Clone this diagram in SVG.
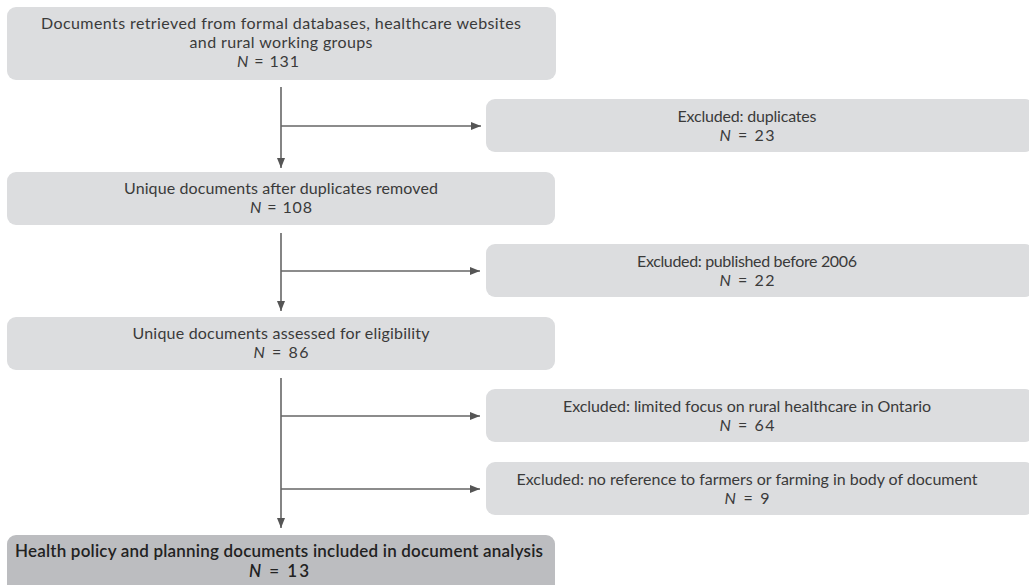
<svg xmlns="http://www.w3.org/2000/svg" width="1029" height="585" viewBox="0 0 1029 585">
<defs>
<style>
.box{fill:#dcdddf}
.final{fill:#bcbdc0}
text{font-family:Lato,"Open Sans","Liberation Sans",sans-serif;font-size:16px;fill:#3a3a3a;text-anchor:middle}
.b{font-weight:600;font-size:17px;fill:#222}
.n{font-style:italic}
.ln{stroke:#666;stroke-width:1.6;fill:none}
</style>
<marker id="ah" viewBox="0 0 10 10" refX="10" refY="5" markerWidth="10" markerHeight="10" markerUnits="userSpaceOnUse" orient="auto">
<path d="M0,1 L10,5 L0,9 Z" fill="#555"/>
</marker>
</defs>
<rect width="1029" height="585" fill="#fff"/>
<g id="connectors">
<path class="ln" d="M281,87 V168" marker-end="url(#ah)"/>
<path class="ln" d="M281,126 H481" marker-end="url(#ah)"/>
<path class="ln" d="M281,233 V311" marker-end="url(#ah)"/>
<path class="ln" d="M281,271 H480" marker-end="url(#ah)"/>
<path class="ln" d="M281,378 V528" marker-end="url(#ah)"/>
<path class="ln" d="M281,416 H480" marker-end="url(#ah)"/>
<path class="ln" d="M281,489 H480" marker-end="url(#ah)"/>
</g>
<g id="n1">
<rect class="box" x="7" y="7" width="549" height="73" rx="9"/>
<text x="281" y="29" textLength="480">Documents retrieved from formal databases, healthcare websites</text>
<text x="281" y="48" textLength="183">and rural working groups</text>
<text x="268" y="67" textLength="62"><tspan class="n">N</tspan> = 131</text>
</g>
<g id="n2">
<rect class="box" x="486" y="99" width="548" height="53" rx="9"/>
<text x="747" y="122" textLength="139">Excluded: duplicates</text>
<text x="747" y="141" textLength="55"><tspan class="n">N</tspan> = 23</text>
</g>
<g id="n3">
<rect class="box" x="7" y="172" width="548" height="53" rx="9"/>
<text x="281" y="194" textLength="314">Unique documents after duplicates removed</text>
<text x="281" y="213" textLength="62"><tspan class="n">N</tspan> = 108</text>
</g>
<g id="n4">
<rect class="box" x="486" y="244" width="548" height="53" rx="9"/>
<text x="747" y="267" textLength="220">Excluded: published before 2006</text>
<text x="747" y="286" textLength="55"><tspan class="n">N</tspan> = 22</text>
</g>
<g id="n5">
<rect class="box" x="7" y="317" width="548" height="53" rx="9"/>
<text x="281" y="339" textLength="297">Unique documents assessed for eligibility</text>
<text x="281" y="358" textLength="55"><tspan class="n">N</tspan> = 86</text>
</g>
<g id="n6">
<rect class="box" x="486" y="389" width="548" height="53" rx="9"/>
<text x="747" y="412" textLength="368">Excluded: limited focus on rural healthcare in Ontario</text>
<text x="747" y="431" textLength="55"><tspan class="n">N</tspan> = 64</text>
</g>
<g id="n7">
<rect class="box" x="486" y="462" width="548" height="53" rx="9"/>
<text x="747" y="485" textLength="461">Excluded: no reference to farmers or farming in body of document</text>
<text x="747" y="504" textLength="45"><tspan class="n">N</tspan> = 9</text>
</g>
<g id="n8">
<rect class="final" x="7" y="535" width="548" height="60" rx="9"/>
<text class="b" x="279" y="557" textLength="528">Health policy and planning documents included in document analysis</text>
<text class="b" x="279" y="577" textLength="60"><tspan class="n">N</tspan> = 13</text>
</g>
</svg>
